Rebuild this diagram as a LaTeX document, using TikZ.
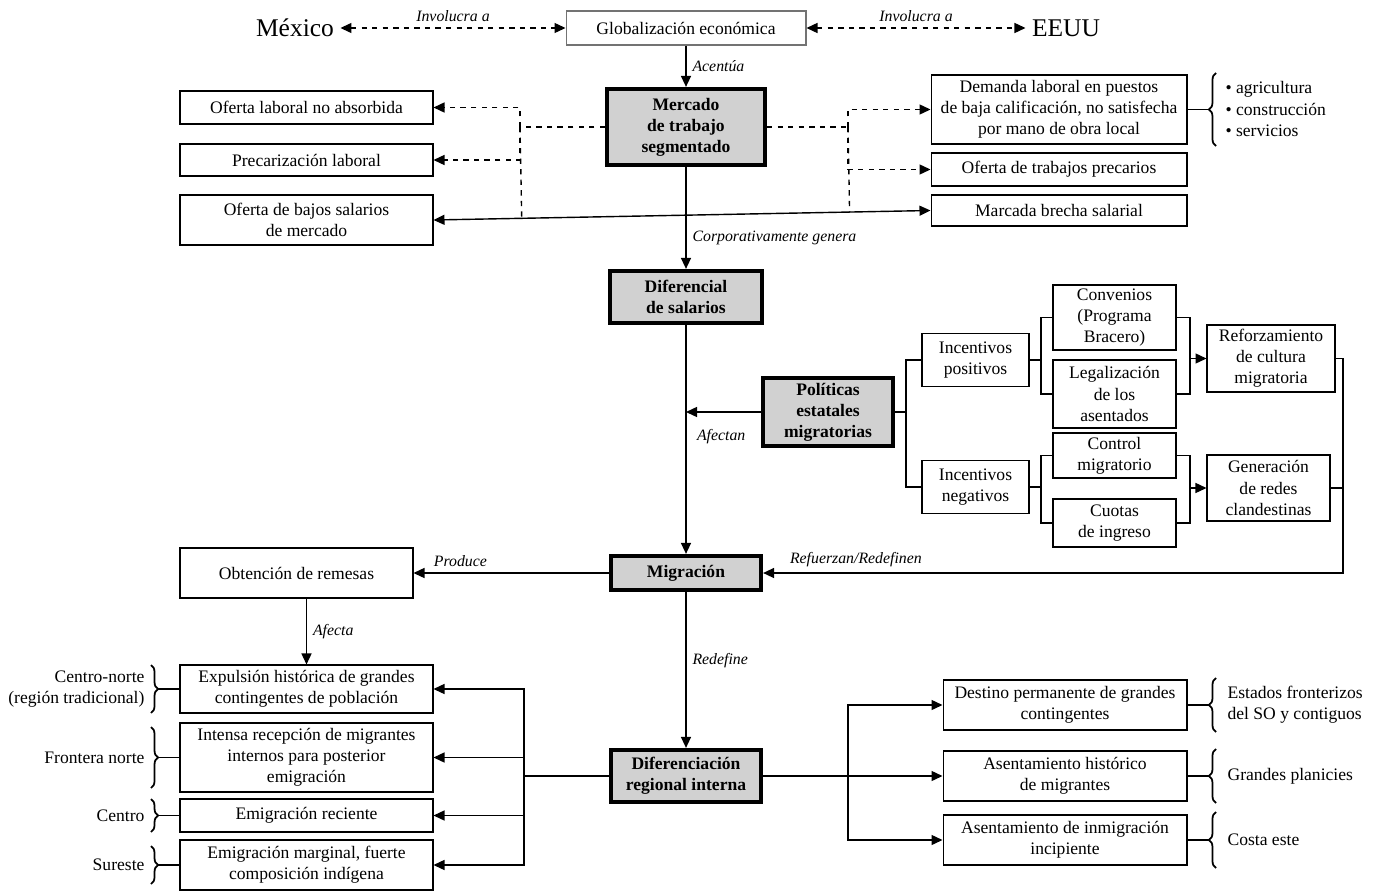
\documentclass[tikz,border=0pt]{standalone}
\usepackage{fontspec}
\setmainfont{Liberation Serif}
\usetikzlibrary{arrows.meta, calc, decorations.pathreplacing}

\begin{document}
\begin{tikzpicture}[
    x=0.02cm, y=-0.02cm,
    line width=0.8pt,
    >={Triangle[length=2.2mm, width=2mm]},
    whitebox/.style={rectangle, draw=black, line width=0.6pt, align=center, inner sep=1pt},
    graybox/.style={rectangle, draw=black, line width=2.4pt, fill=black!18, align=center, inner sep=1pt, font=\bfseries},
    edgetext/.style={font=\fontsize{9}{11}\selectfont\itshape},
    bigtext/.style={font=\fontsize{14.5}{17}\selectfont},
    bracebar/.style={decorate, decoration={brace, amplitude=4pt}, line width=1pt},
    ]
    \useasboundingbox (0,0) rectangle (1373,892);

    % top row
    \node[bigtext] (mex) at (295,28) {México};
    \node[bigtext] (eeuu) at (1066,28) {EEUU};
    \node[whitebox, draw=black!55, minimum width=4.8cm, minimum height=0.68cm] (glob) at (686,28) {Globalización económica};

    % segmented market and its effects
    \node[graybox, minimum width=3.16cm, minimum height=1.52cm] (merc) at (686,127) {Mercado\\de trabajo\\segmentado};
    \node[whitebox, minimum width=5.06cm, minimum height=0.66cm] (olna) at (306.5,107.5) {Oferta laboral no absorbida};
    \node[whitebox, minimum width=5.06cm, minimum height=0.64cm] (prec) at (306.5,160) {Precarización laboral};
    \node[whitebox, minimum width=5.06cm, minimum height=1cm] (obs) at (306.5,220) {Oferta de bajos salarios\\de mercado};
    \node[whitebox, minimum width=5.12cm, minimum height=1.38cm] (dem) at (1059,109.5) {Demanda laboral en puestos\\de baja calificación, no satisfecha\\por mano de obra local};
    \node[whitebox, minimum width=5.12cm, minimum height=0.66cm] (otp) at (1059,169.5) {Oferta de trabajos precarios};
    \node[whitebox, minimum width=5.12cm, minimum height=0.62cm] (mbs) at (1059,210.5) {Marcada brecha salarial};
    \node[anchor=west, align=left] (sect) at (1219,109) {\textbullet\ agricultura\\\textbullet\ construcción\\\textbullet\ servicios};

    % wages and policies
    \node[graybox, minimum width=3.04cm, minimum height=1.04cm] (dif) at (686,297) {Diferencial\\de salarios};
    \node[graybox, minimum width=2.6cm, minimum height=1.36cm] (pol) at (828,412) {Políticas\\estatales\\migratorias};
    \node[whitebox, minimum width=2.14cm, minimum height=1.06cm] (ipos) at (975.5,360) {Incentivos\\positivos};
    \node[whitebox, minimum width=2.14cm, minimum height=1.06cm] (ineg) at (975.5,487) {Incentivos\\negativos};
    \node[whitebox, minimum width=2.46cm, minimum height=1.3cm] (conv) at (1114.5,317.5) {Convenios\\(Programa\\Bracero)};
    \node[whitebox, minimum width=2.46cm, minimum height=1.36cm] (leg) at (1114.5,394) {Legalización\\de los\\asentados};
    \node[whitebox, minimum width=2.46cm, minimum height=0.9cm] (ctrl) at (1114.5,455.5) {Control\\migratorio};
    \node[whitebox, minimum width=2.46cm, minimum height=0.96cm] (cuo) at (1114.5,523) {Cuotas\\de ingreso};
    \node[whitebox, minimum width=2.56cm, minimum height=1.34cm] (ref) at (1271,358.5) {Reforzamiento\\de cultura\\migratoria};
    \node[whitebox, minimum width=2.46cm, minimum height=1.32cm] (gen) at (1268.5,488) {Generación\\de redes\\clandestinas};

    % migration
    \node[graybox, minimum width=3cm, minimum height=0.68cm] (mig) at (686,573) {Migración};
    \node[whitebox, minimum width=4.66cm, minimum height=1cm] (rem) at (296.5,573) {Obtención de remesas};

    % regional differentiation
    \node[graybox, minimum width=3cm, minimum height=1.04cm] (dri) at (686,776) {Diferenciación\\regional interna};
    \node[whitebox, minimum width=5.06cm, minimum height=0.96cm] (exp) at (306.5,689) {Expulsión histórica de grandes\\contingentes de población};
    \node[whitebox, minimum width=5.06cm, minimum height=1.38cm] (int) at (306.5,757.5) {Intensa recepción de migrantes\\internos para posterior\\emigración};
    \node[whitebox, minimum width=5.06cm, minimum height=0.66cm] (erec) at (306.5,815.5) {Emigración reciente};
    \node[whitebox, minimum width=5.06cm, minimum height=1cm] (emar) at (306.5,865) {Emigración marginal, fuerte\\composición indígena};
    \node[whitebox, minimum width=4.88cm, minimum height=1cm] (dest) at (1065,705) {Destino permanente de grandes\\contingentes};
    \node[whitebox, minimum width=4.88cm, minimum height=1cm] (ahist) at (1065,776) {Asentamiento histórico\\de migrantes};
    \node[whitebox, minimum width=4.88cm, minimum height=1cm] (ainm) at (1065,840) {Asentamiento de inmigración\\incipiente};

    \node[anchor=east, align=right] (cn) at (151,689) {Centro-norte\\(región tradicional)};
    \node[anchor=east] (fn) at (151,757.5) {Frontera norte};
    \node[anchor=east] (ce) at (151,815.5) {Centro};
    \node[anchor=east] (se) at (151,865) {Sureste};
    \node[anchor=west, align=left] (efr) at (1221,705) {Estados fronterizos\\del SO y contiguos};
    \node[anchor=west] (gpl) at (1221,776) {Grandes planicies};
    \node[anchor=west] (ces) at (1221,840) {Costa este};

    % junction points
    \coordinate (dl) at (520,127);
    \coordinate (dr) at (848,127);
    \coordinate (pb) at (906,412);
    \coordinate (pp) at (1041,360);
    \coordinate (pn) at (1041,487);
    \coordinate (qp) at (1190,358.5);
    \coordinate (qn) at (1190,488);
    \coordinate (fb) at (1343,573);
    \coordinate (bl) at (524,776);
    \coordinate (br) at (848,776);

    % top connectors
    \draw[dashed, <->] (mex) -- (glob) node[edgetext, midway, above] {Involucra a};
    \draw[dashed, <->] (glob) -- (eeuu) node[edgetext, midway, above] {Involucra a};
    \draw[->] (glob) -- (merc) node[edgetext, right, pos=0.5] {Acentúa};

    \draw[dashed] (merc.west) -- (dl);
    \draw[dashed, ->] (dl) |- (olna.east);
    \draw[dashed, ->] (dl) |- (prec.east);
    \draw[dashed] (dl) -- ($(obs.east)!(dl)!(mbs.west)$);
    \draw[dashed] (merc.east) -- (dr);
    \draw[dashed, ->] (dr) |- (dem.west);
    \draw[dashed, ->] (dr) |- (otp.west);
    \draw[dashed] (dr) -- ($(obs.east)!(dr)!(mbs.west)$);
    \draw[<->] (obs.east) -- (mbs.west);

    % main axis
    \draw[->] (merc) -- (dif) node[edgetext, right, pos=0.7] {Corporativamente genera};
    \draw[->] (dif) -- (mig);
    \draw[->] (mig) -- (dri) node[edgetext, right, pos=0.44] {Redefine};
    \draw[->] (pol.west) -- (pol.west -| dif.south) node[edgetext, below=6pt, pos=0.53] {Afectan};

    % policy tree
    \draw (pol.east) -- (pb);
    \draw (pb) |- (ipos.west);
    \draw (pb) |- (ineg.west);
    \draw (ipos.east) -- (pp);
    \draw (pp) |- (conv.west);
    \draw (pp) |- (leg.west);
    \draw (ineg.east) -- (pn);
    \draw (pn) |- (ctrl.west);
    \draw (pn) |- (cuo.west);
    \draw (conv.east) -| (qp);
    \draw (leg.east) -| (qp);
    \draw[->] (qp) -- (ref.west);
    \draw (ctrl.east) -| (qn);
    \draw (cuo.east) -| (qn);
    \draw[->] (qn) -- (gen.west);
    \draw (gen.east) -- (gen.east -| fb);
    \draw[->] (ref.east) -| (fb) -- (mig.east) node[edgetext, above, pos=0.84] {Refuerzan/Redefinen};

    % remittances
    \draw[->] (mig) -- (rem) node[edgetext, above, pos=0.76] {Produce};
    \draw[->] (rem.south -| exp.north) -- (exp) node[edgetext, right, pos=0.5] {Afecta};

    % regional branches
    \draw (dri) -- (bl);
    \draw[->] (bl) |- (exp.east);
    \draw[->] (bl) |- (int.east);
    \draw[->] (bl) |- (erec.east);
    \draw[->] (bl) |- (emar.east);
    \draw (dri) -- (br);
    \draw[->] (br) |- (dest.west);
    \draw[->] (br) |- (ahist.west);
    \draw[->] (br) |- (ainm.west);

    % braces
    \draw[bracebar] (1216,146) -- (1216,73);
    \draw (dem.east) -- (1209,109.5);
    \draw[bracebar] (151,665) -- (151,713);
    \draw (exp.west) -- (158,689);
    \draw[bracebar] (151,727) -- (151,788);
    \draw (int.west) -- (158,757.5);
    \draw[bracebar] (151,799) -- (151,832);
    \draw (erec.west) -- (158,815.5);
    \draw[bracebar] (151,846) -- (151,884);
    \draw (emar.west) -- (158,865);
    \draw[bracebar] (1216,732) -- (1216,678);
    \draw (dest.east) -- (1209,705);
    \draw[bracebar] (1216,803) -- (1216,749);
    \draw (ahist.east) -- (1209,776);
    \draw[bracebar] (1216,868) -- (1216,812);
    \draw (ainm.east) -- (1209,840);
\end{tikzpicture}
\end{document}
